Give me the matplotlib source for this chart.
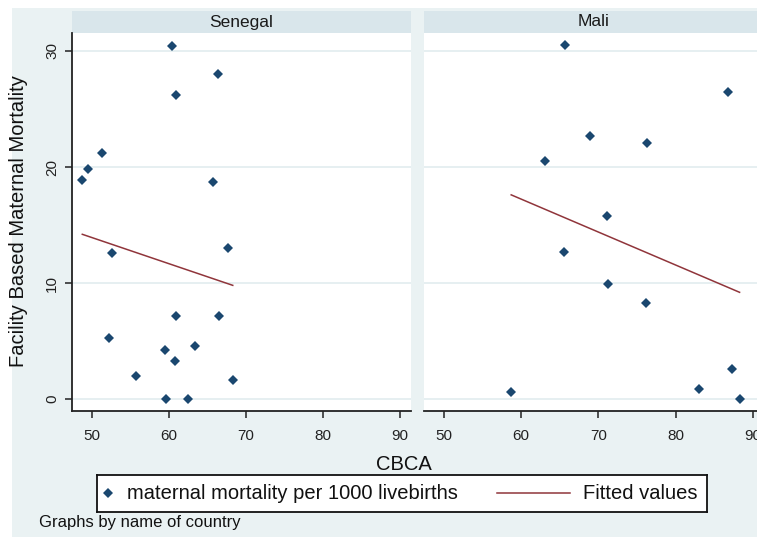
import numpy as np
import matplotlib
matplotlib.use("Agg")
import matplotlib.pyplot as plt
from matplotlib.patches import Rectangle

plt.rcParams['font.family'] = ['Liberation Sans', 'DejaVu Sans']

# Senegal: CBCA vs facility based maternal mortality
sen_cbca = [60.4, 66.4, 61.0, 51.4, 49.5, 48.8, 65.7, 52.7, 67.7, 61.0,
            66.5, 52.2, 59.5, 63.4, 60.8, 55.7, 68.3, 59.7, 62.5]
sen_mort = [30.4, 28.0, 26.2, 21.2, 19.8, 18.9, 18.7, 12.6, 13.0, 7.2,
            7.2, 5.3, 4.2, 4.6, 3.3, 2.0, 1.6, 0.0, 0.0]
sen_fit_x = [48.8, 68.3]
sen_fit_y = [14.2, 9.8]

# Mali
mali_cbca = [65.7, 86.8, 68.9, 76.3, 63.1, 71.1, 65.5, 71.3, 76.2,
             58.7, 83.0, 87.3, 88.3]
mali_mort = [30.5, 26.5, 22.7, 22.1, 20.5, 15.8, 12.7, 9.9, 8.3,
             0.6, 0.9, 2.6, 0.0]
mali_fit_x = [58.7, 88.3]
mali_fit_y = [17.6, 9.2]

panels = [("Senegal", sen_cbca, sen_mort, sen_fit_x, sen_fit_y),
          ("Mali", mali_cbca, mali_mort, mali_fit_x, mali_fit_y)]

xticks = [50, 60, 70, 80, 90]
yticks = [0, 10, 20, 30]

BG = '#EAF2F3'
STRIP = '#D9E6EB'
NAVY = '#1A476F'
MAROON = '#90353B'

W, H = 757, 538
fig = plt.figure(figsize=(W / 100, H / 100), dpi=100, facecolor='white')
fig.add_artist(Rectangle((12 / W, 1 / H), 1, (537 - 8) / H, transform=fig.transFigure,
                         facecolor=BG, edgecolor='none', zorder=-10))

lefts = [71.5, 424]
pw, ph = 339.5, 378
strip_h = 22 / ph

for i, (name, xs, ys, fx, fy) in enumerate(panels):
    ax = fig.add_axes([lefts[i] / W, (H - 411) / H, pw / W, ph / H])
    ax.set_facecolor('white')
    ax.set_xlim(47.4, 91.4)
    ax.set_ylim(-1.03, 31.55)
    for y in yticks:
        ax.axhline(y, color='#E4EEF0', lw=1.3, zorder=0)
    ax.plot(xs, ys, 'D', color=NAVY, ms=4.6, mew=0, zorder=3)
    ax.plot(fx, fy, '-', color=MAROON, lw=1.1, zorder=2)

    ax.set_xticks(xticks)
    ax.tick_params(axis='x', direction='out', length=5, width=1.1, pad=8,
                   labelsize=11, colors='#222222')
    for s in ['top', 'right']:
        ax.spines[s].set_visible(False)
    ax.spines['bottom'].set_linewidth(1.3)
    ax.spines['bottom'].set_color('#222222')
    if i == 0:
        ax.set_yticks(yticks)
        ax.tick_params(axis='y', direction='out', length=5, width=1.1, pad=4,
                       labelsize=11, colors='#222222')
        plt.setp(ax.get_yticklabels(), rotation=90, va='center')
        ax.spines['left'].set_linewidth(1.3)
        ax.spines['left'].set_color('#222222')
    else:
        ax.set_yticks([])
        ax.spines['left'].set_visible(False)

    ax.add_patch(Rectangle((0, 1), 1, strip_h, transform=ax.transAxes,
                           facecolor=STRIP, edgecolor='none', clip_on=False))
    ax.text(0.5, 1 + strip_h / 2, name, transform=ax.transAxes, ha='center',
            va='center', fontsize=12.5, color='#1a1a1a')

fig.text(19 / W, (H - 221) / H, "Facility Based Maternal Mortality", rotation=90,
         ha='center', va='center', fontsize=14.5, color='#111111')
fig.text(404 / W, (H - 464) / H, "CBCA", ha='center', va='center',
         fontsize=14.5, color='#111111')

# legend box
lx0, lx1, ly0, ly1 = 96.7, 706.7, 475, 511.7
lax = fig.add_axes([lx0 / W, (H - ly1) / H, (lx1 - lx0) / W, (ly1 - ly0) / H])
lax.set_xlim(lx0, lx1)
lax.set_ylim(ly1, ly0)
lax.set_xticks([])
lax.set_yticks([])
lax.set_facecolor('white')
for s in lax.spines.values():
    s.set_linewidth(1.3)
    s.set_color('#111111')
ymid = (ly0 + ly1) / 2
lax.plot([108], [ymid], 'D', color=NAVY, ms=4.6, mew=0)
lax.text(127, ymid, "maternal mortality per 1000 livebirths", va='center',
         fontsize=14.5, color='#111111')
lax.plot([497, 570], [ymid, ymid], color=MAROON, lw=1.1)
lax.text(583, ymid, "Fitted values", va='center', fontsize=14.5, color='#111111')

fig.text(39 / W, (H - 523) / H, "Graphs by name of country", ha='left',
         va='center', fontsize=12, color='#111111')

fig.savefig('out.png', dpi=100, facecolor='white')
